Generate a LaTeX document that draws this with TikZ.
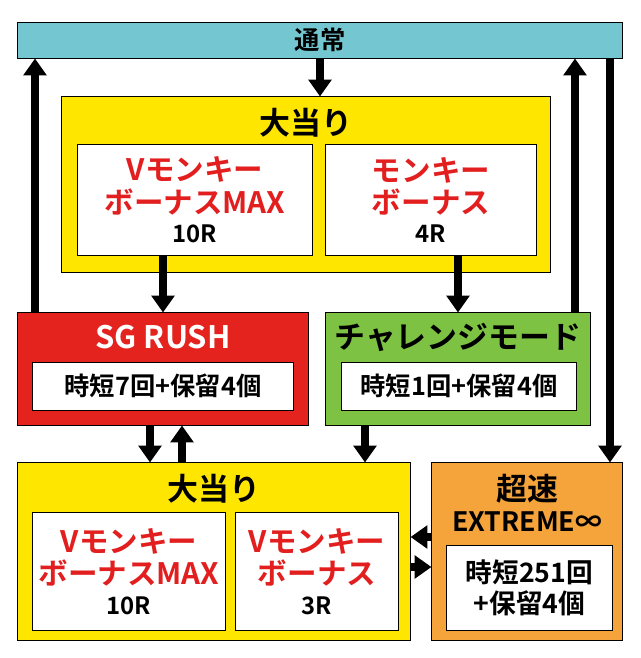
\documentclass[tikz,border=0pt]{standalone}
\usepackage{fontspec}
\setmainfont{Noto Sans CJK JP Bold}
\usetikzlibrary{arrows.meta, positioning}
\definecolor{TopTeal}{RGB}{116, 198, 208}
\definecolor{HitYellow}{RGB}{255, 230, 0}
\definecolor{RushRed}{RGB}{228, 35, 30}
\definecolor{ChalGreen}{RGB}{125, 194, 66}
\definecolor{ExOrange}{RGB}{245, 163, 59}
\definecolor{TxtRed}{RGB}{226, 30, 30}

\begin{document}
\begin{tikzpicture}[x=0.025cm, y=-0.025cm,
    panel/.style={draw=black, line width=0.7pt, inner sep=0pt},
    inbox/.style={panel, fill=white, align=center, font=\fontsize{21}{23}\selectfont},
    title/.style={font=\fontsize{22}{24}\selectfont},
    arr/.style={line width=5pt, -{Triangle[length=12pt, width=16pt]}}]
  \useasboundingbox[fill=white] (0,0) rectangle (640,658);
  % boxes
  \node[panel, fill=TopTeal, minimum width=15.1cm, minimum height=0.9cm] (top) at (320,40) {};
  \node[title, font=\fontsize{18}{20}\selectfont] at (320,40) {通常};
  \node[panel, fill=HitYellow, minimum width=12.2cm, minimum height=4.375cm] (hitA) at (306,184.5) {};
  \node[title] at (306,123) {大当り};
  \node[inbox, minimum width=5.85cm, minimum height=2.75cm] (hitAL) at (195,200)
    {\textcolor{TxtRed}{Vモンキー}\\\textcolor{TxtRed}{ボーナスMAX}\\[-2pt]{\fontsize{17}{18}\selectfont 10R}};
  \node[inbox, minimum width=5.25cm, minimum height=2.75cm] (hitAR) at (431,200)
    {\textcolor{TxtRed}{モンキー}\\\textcolor{TxtRed}{ボーナス}\\[-2pt]{\fontsize{17}{18}\selectfont 4R}};
  \node[panel, fill=RushRed, minimum width=7.25cm, minimum height=2.8cm] (rush) at (163,369) {};
  \node[title, text=white] at (163,337) {SG RUSH};
  \node[inbox, minimum width=6.5cm, minimum height=1.2cm, font=\fontsize{18}{20}\selectfont] (rushIn) at (163,386) {時短7回+保留4個};
  \node[panel, fill=ChalGreen, minimum width=6.6cm, minimum height=2.8cm] (chal) at (458,369) {};
  \node[title] at (458,337) {チャレンジモード};
  \node[inbox, minimum width=5.85cm, minimum height=1.2cm, font=\fontsize{18}{20}\selectfont] (chalIn) at (459,386) {時短1回+保留4個};
  \node[panel, fill=HitYellow, minimum width=9.8cm, minimum height=4.425cm] (hitB) at (214,551.5) {};
  \node[title] at (214,489) {大当り};
  \node[inbox, minimum width=4.8cm, minimum height=2.925cm] (hitBL) at (129,571.5)
    {\textcolor{TxtRed}{Vモンキー}\\\textcolor{TxtRed}{ボーナスMAX}\\[-2pt]{\fontsize{17}{18}\selectfont 10R}};
  \node[inbox, minimum width=4.05cm, minimum height=2.925cm] (hitBR) at (317,571.5)
    {\textcolor{TxtRed}{Vモンキー}\\\textcolor{TxtRed}{ボーナス}\\[-2pt]{\fontsize{17}{18}\selectfont 3R}};
  \node[panel, fill=ExOrange, minimum width=4.75cm, minimum height=4.425cm] (ext) at (527,551.5) {};
  \node[title] at (527,489) {超速};
  \node[title, font=\fontsize{19}{20}\selectfont] at (527,522) {EXTREME∞};
  \node[inbox, minimum width=4.125cm, minimum height=2.125cm, font=\fontsize{19}{22}\selectfont] (extIn) at (529.5,587.5) {時短251回\\+保留4個};
  % arrows
  \draw[arr] (top.south) -- (hitA.north -| top.south);
  \draw[arr] (rush.north -| 35,0) -- (top.south -| 35,0);
  \draw[arr] (chal.north -| 575,0) -- (top.south -| 575,0);
  \draw[arr] (top.south -| 610,0) -- (ext.north -| 610,0);
  \draw[arr] (hitAL.south -| rush.north) -- (rush.north);
  \draw[arr] (hitAR.south -| chal.north) -- (chal.north);
  \draw[arr] (rush.south -| 150,0) -- (hitB.north -| 150,0);
  \draw[arr] (hitB.north -| 182,0) -- (rush.south -| 182,0);
  \draw[arr] (chal.south -| 365,0) -- (hitB.north -| 365,0);
  \draw[arr] (ext.west |- 0,537) -- (hitB.east |- 0,537);
  \draw[arr] (hitB.east |- 0,567) -- (ext.west |- 0,567);
\end{tikzpicture}
\end{document}
